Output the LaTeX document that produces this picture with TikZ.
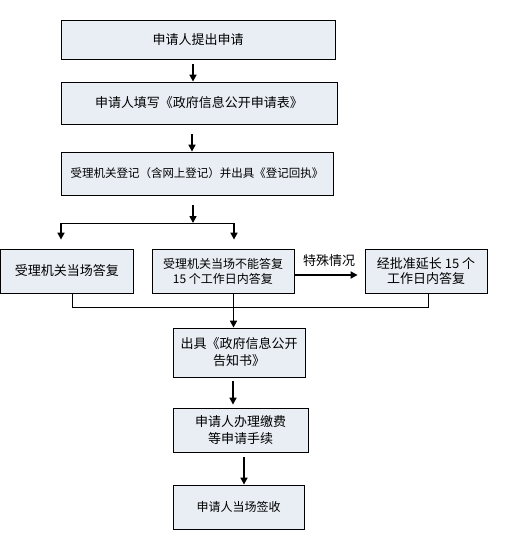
\documentclass[tikz,border=0pt]{standalone}
\usepackage{fontspec}
\setmainfont{Noto Sans CJK SC}
\usetikzlibrary{positioning, calc, arrows.meta}
\definecolor{boxfill}{RGB}{232,238,244}

\begin{document}
\begin{tikzpicture}[x=1pt, y=-1pt,
        box/.style={draw, fill=boxfill, line width=0.8pt, align=center, inner sep=0pt,
            font=\fontsize{13}{17}\selectfont},
        flow/.style={line width=1.6pt, -{Triangle[length=7pt,width=7pt]}},
        link/.style={line width=0.9pt}]
        \useasboundingbox (0,0) rectangle (512,547);
        % Upper boxes
        \node[box, minimum width=274pt, minimum height=39pt] (apply) at (198,39.5) {申请人提出申请};
        \node[box, minimum width=276pt, minimum height=42pt] (form) at (199,103) {申请人填写《政府信息公开申请表》};
        \node[box, minimum width=272pt, minimum height=43pt, font=\fontsize{11.5}{15}\selectfont] (register) at (197,173.5) {受理机关登记（含网上登记）并出具《登记回执》};
        % Middle row
        \node[box, minimum width=133pt, minimum height=44pt] (onsite) at (67,271) {受理机关当场答复};
        \node[box, minimum width=142pt, minimum height=44pt, font=\fontsize{12}{15}\selectfont] (later) at (223,271) {受理机关当场不能答复\\15 个工作日内答复};
        \node[box, minimum width=122pt, minimum height=44pt, font=\fontsize{13}{15}\selectfont] (extend) at (426,271) {经批准延长 15 个\\工作日内答复};
        \node[font=\fontsize{13}{17}\selectfont] (special) at (329,261) {特殊情况};
        % Lower boxes
        \node[box, minimum width=132pt, minimum height=49pt] (notice) at (239,352.5) {出具《政府信息公开\\告知书》};
        \node[box, minimum width=135pt, minimum height=44pt] (fee) at (240.5,430) {申请人办理缴费\\等申请手续};
        \node[box, minimum width=131pt, minimum height=44pt, font=\fontsize{12}{16}\selectfont] (sign) at (238.5,507) {申请人当场签收};
        % Arrows down the column
        \coordinate (c1) at (193,64);
        \coordinate (c2) at (192,134);
        \coordinate (c3) at (193,205);
        \draw[flow] (c1) -- (c1 |- form.north);
        \draw[flow] (c2) -- (c2 |- register.north);
        % Split
        \coordinate (bl) at (61,223);
        \coordinate (br) at (234,223);
        \draw[flow] (c3) -- (c3 |- bl);
        \draw[link] (bl) -- (br);
        \draw[flow] (bl) -- ([yshift=9pt]bl |- onsite.north);
        \draw[flow] (br) -- ([yshift=9pt]br |- later.north);
        \draw[flow] ([yshift=-4pt]later.east) -- ([xshift=-7pt, yshift=-4pt]extend.west);
        % Join
        \coordinate (jl) at (72,307);
        \coordinate (jm) at (233.5,307);
        \coordinate (jr) at (428,307);
        \draw[link] (jl |- onsite.south) -- (jl) -- (jr) -- (jr |- extend.south);
        \draw[link] (jm |- later.south) -- (jm);
        \draw[flow] ([yshift=6pt]jm) -- (jm |- notice.north);
        \coordinate (c5) at (233,381);
        \coordinate (c6) at (244,457);
        \draw[flow] (c5) -- ([yshift=3pt]c5 |- fee.north);
        \draw[flow] (c6) -- (c6 |- sign.north);
\end{tikzpicture}
\end{document}
